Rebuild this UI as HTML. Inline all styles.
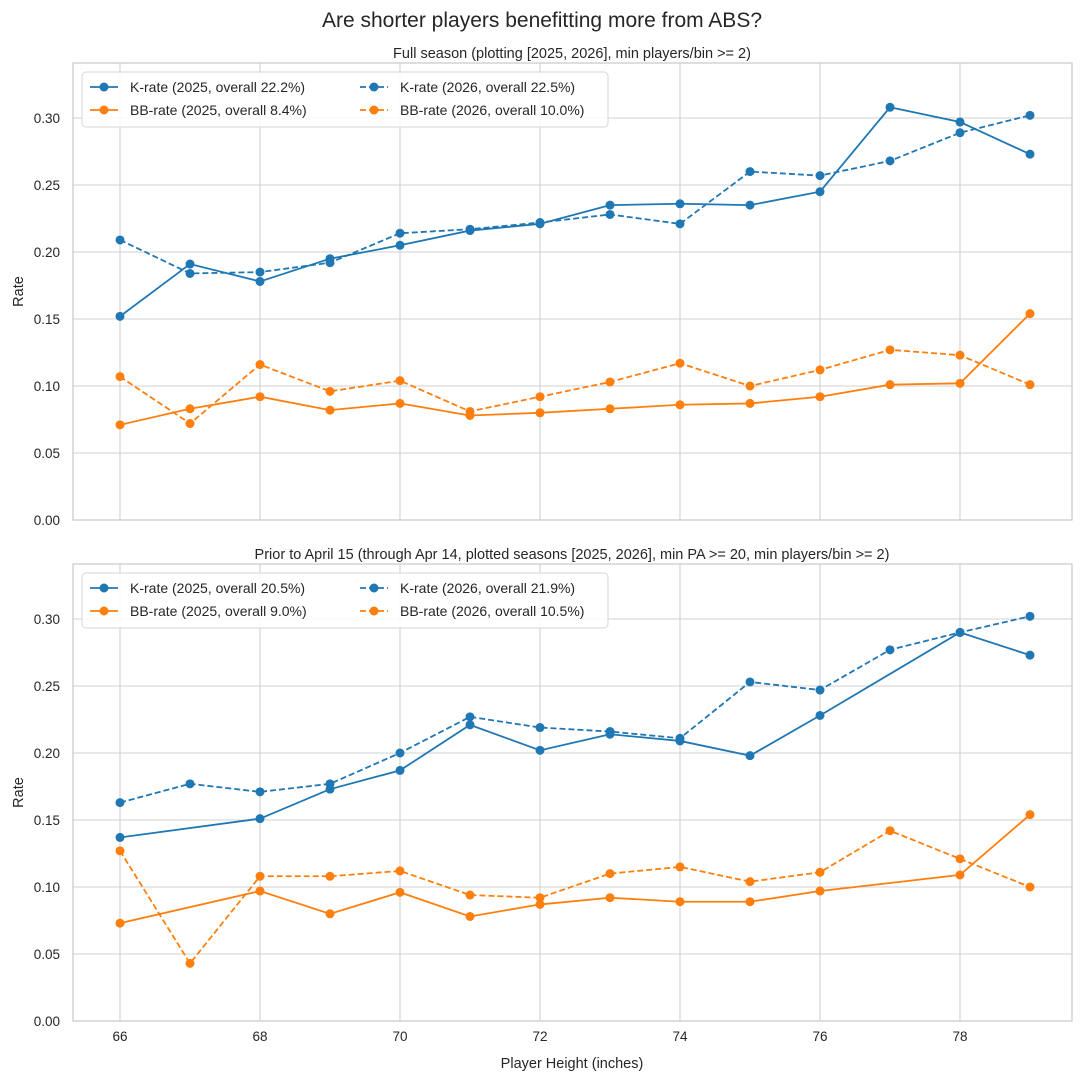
<!DOCTYPE html>
<html><head><meta charset="utf-8"><style>
body{margin:0;background:#fff}
svg text{font-family:"Liberation Sans","DejaVu Sans",sans-serif;fill:#262626}
</style></head><body>
<svg id="s" width="1084" height="1079" xmlns="http://www.w3.org/2000/svg">
<rect width="1084" height="1079" fill="#fff"/>
</svg>
<script>
const S=document.getElementById('s'),NS='http://www.w3.org/2000/svg';
function el(t,a,txt){const e=document.createElementNS(NS,t);for(const k in a)e.setAttribute(k,a[k]);if(txt!==undefined)e.textContent=txt;S.appendChild(e);return e;}
const X=h=>120+(h-66)*70;
function panel(y0,top,data,labels,xt){
 const Y=v=>y0-v*1340;
 [66,68,70,72,74,76,78].forEach(h=>el('line',{x1:X(h),x2:X(h),y1:top,y2:y0,stroke:'#d0d0d0','stroke-width':1.1}));
 for(let i=0;i<=6;i++){const v=i*0.05;el('line',{x1:73,x2:1072,y1:Y(v),y2:Y(v),stroke:'#d0d0d0','stroke-width':1.1});
  el('text',{x:60,y:Y(v)+5,'font-size':13.5,'text-anchor':'end'},v.toFixed(2));}
 el('rect',{x:73,y:top,width:999,height:y0-top,fill:'none',stroke:'#c8c8c8','stroke-width':1.2});
 el('text',{x:23,y:(top+y0)/2,'font-size':14.5,'text-anchor':'middle',transform:`rotate(-90 23 ${(top+y0)/2})`},'Rate');
 if(xt)[66,68,70,72,74,76,78].forEach(h=>el('text',{x:X(h),y:y0+20,'font-size':13.5,'text-anchor':'middle'},h));
 data.forEach(d=>{const pts=[];d.v.forEach((v,i)=>{if(v!=null)pts.push([X(66+i),Y(v)])});
  el('polyline',{points:pts.map(p=>p.join(',')).join(' '),fill:'none',stroke:d.c,'stroke-width':1.8,'stroke-dasharray':d.d?'6,3':'none'});
  pts.forEach(p=>el('circle',{cx:p[0],cy:p[1],r:4.5,fill:d.c}));});
 el('rect',{x:82,y:top+9,width:526,height:55,rx:4,fill:'#fff','fill-opacity':0.85,stroke:'#d6d6d6'});
 labels.forEach((l,i)=>{const lx=i<2?90:360,yy=top+24+(i%2)*23;const c=i%2?'#ff7f0e':'#1f77b4';
  el('line',{x1:lx,x2:lx+28,y1:yy,y2:yy,stroke:c,'stroke-width':1.8,'stroke-dasharray':i>=2?'6,3':'none'});
  el('circle',{cx:lx+14,cy:yy,r:4.5,fill:c});
  el('text',{x:lx+40,y:yy+5,'font-size':14},l);});
}
const B='#1f77b4',O='#ff7f0e';
panel(520,63,[
 {c:B,v:[.152,.191,.178,.195,.205,.216,.221,.235,.236,.235,.245,.308,.297,.273]},
 {c:B,d:1,v:[.209,.184,.185,.192,.214,.217,.222,.228,.221,.260,.257,.268,.289,.302]},
 {c:O,v:[.071,.083,.092,.082,.087,.078,.080,.083,.086,.087,.092,.101,.102,.154]},
 {c:O,d:1,v:[.107,.072,.116,.096,.104,.081,.092,.103,.117,.100,.112,.127,.123,.101]}],
 ['K-rate (2025, overall 22.2%)','BB-rate (2025, overall 8.4%)','K-rate (2026, overall 22.5%)','BB-rate (2026, overall 10.0%)'],false);
panel(1021,564,[
 {c:B,v:[.137,null,.151,.173,.187,.221,.202,.214,.209,.198,.228,null,.290,.273]},
 {c:B,d:1,v:[.163,.177,.171,.177,.200,.227,.219,.216,.211,.253,.247,.277,.290,.302]},
 {c:O,v:[.073,null,.097,.080,.096,.078,.087,.092,.089,.089,.097,null,.109,.154]},
 {c:O,d:1,v:[.127,.043,.108,.108,.112,.094,.092,.110,.115,.104,.111,.142,.121,.100]}],
 ['K-rate (2025, overall 20.5%)','BB-rate (2025, overall 9.0%)','K-rate (2026, overall 21.9%)','BB-rate (2026, overall 10.5%)'],true);
el('text',{x:542,y:27,'font-size':21,'text-anchor':'middle'},'Are shorter players benefitting more from ABS?');
el('text',{x:572,y:58,'font-size':14.5,'text-anchor':'middle'},'Full season (plotting [2025, 2026], min players/bin >= 2)');
el('text',{x:572,y:559,'font-size':14.5,'text-anchor':'middle'},'Prior to April 15 (through Apr 14, plotted seasons [2025, 2026], min PA >= 20, min players/bin >= 2)');
el('text',{x:572,y:1068,'font-size':14.5,'text-anchor':'middle'},'Player Height (inches)');
</script>
</body></html>
